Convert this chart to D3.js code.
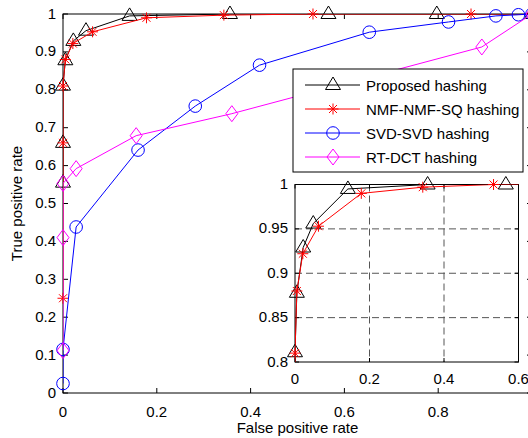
<!DOCTYPE html>
<html>
<head>
<meta charset="UTF-8">
<script src="https://d3js.org/d3.v7.min.js"></script>
<style>
    body { margin: 0; background: #fff; }
    svg { display: block; font-family: "Liberation Sans", Arial, sans-serif; }
    .tick-label { font-size: 15px; fill: #000; }
</style>
</head>
<body>
<div id="chart"></div>
<script>
    // ROC points: [false positive rate, true positive rate]
    const proposed = [[0,0.555],[0,0.66],[0,0.811],[0.005,0.878],[0.022,0.929],[0.049,0.956],[0.142,0.995],[0.356,1],[0.566,1],[0.797,1],[1,1]];
    const nmfSq    = [[0,0.25],[0,0.66],[0,0.81],[0.005,0.88],[0.021,0.922],[0.063,0.953],[0.178,0.99],[0.343,0.997],[0.533,1],[0.87,1],[1,1]];
    const svdSvd   = [[0,0.025],[0,0.115],[0.028,0.438],[0.16,0.641],[0.282,0.757],[0.419,0.865],[0.653,0.952],[0.822,0.979],[0.923,0.995],[0.971,0.998],[1,1]];
    const rtDct    = [[0,0.112],[0,0.41],[0,0.553],[0.028,0.592],[0.156,0.679],[0.36,0.737],[0.893,0.913],[1,1]];

    const seriesNames = ["Proposed hashing", "NMF-NMF-SQ hashing", "SVD-SVD hashing", "RT-DCT hashing"];
    const xTicks = [0, 0.2, 0.4, 0.6, 0.8, 1];
    const yTicks = [0, 0.1, 0.2, 0.3, 0.4, 0.5, 0.6, 0.7, 0.8, 0.9, 1];
    const insetXTicks = [0, 0.2, 0.4, 0.6];
    const insetYTicks = [0.8, 0.85, 0.9, 0.95, 1];

    const series = [
        { name: seriesNames[0], data: proposed, color: "#000", marker: "triangle" },
        { name: seriesNames[1], data: nmfSq, color: "#ff0000", marker: "star" },
        { name: seriesNames[2], data: svdSvd, color: "#0000ff", marker: "circle" },
        { name: seriesNames[3], data: rtDct, color: "#ff00ff", marker: "diamond" }
    ];

    const W = 528, H = 438;
    const svg = d3.select("#chart").append("svg").attr("width", W).attr("height", H);

    // outline markers, like matlab
    function markerPath(type) {
        if (type === "triangle") return "M0,-8L7.5,4.5L-7.5,4.5Z";
        if (type === "circle") return "M6.3,0A6.3,6.3 0 1,1 -6.3,0A6.3,6.3 0 1,1 6.3,0Z";
        if (type === "diamond") return "M0,-8L6,0L0,8L-6,0Z";
        // asterisk
        const r = 5.5, d = 4;
        return `M0,${-r}L0,${r}M${-r},0L${r},0M${-d},${-d}L${d},${d}M${-d},${d}L${d},${-d}`;
    }

    function drawAxes(g, x, y, xt, yt, tickLen, labelDy) {
        const [x0, x1] = x.range(), [y0, y1] = y.range();
        const fmt = d3.format("~g");
        // ticks on all four sides, pointing inward
        xt.forEach(t => {
            g.append("line").attr("x1", x(t)).attr("x2", x(t)).attr("y1", y0).attr("y2", y0 - tickLen).attr("stroke", "#000");
            g.append("line").attr("x1", x(t)).attr("x2", x(t)).attr("y1", y1).attr("y2", y1 + tickLen).attr("stroke", "#000");
            // the figure is cropped on the right, the last main label falls outside it
            if (x(t) < W - 4) {
                g.append("text").attr("class", "tick-label").attr("x", x(t)).attr("y", y0 + labelDy)
                    .attr("text-anchor", "middle").text(fmt(t));
            }
        });
        yt.forEach(t => {
            g.append("line").attr("x1", x0).attr("x2", x0 + tickLen).attr("y1", y(t)).attr("y2", y(t)).attr("stroke", "#000");
            g.append("line").attr("x1", x1).attr("x2", x1 - tickLen).attr("y1", y(t)).attr("y2", y(t)).attr("stroke", "#000");
            g.append("text").attr("class", "tick-label").attr("x", x0 - 7).attr("y", y(t) + 4.5)
                .attr("text-anchor", "end").text(fmt(t));
        });
        g.append("rect").attr("x", x0).attr("y", y1).attr("width", x1 - x0).attr("height", y0 - y1)
            .attr("fill", "none").attr("stroke", "#000");
    }

    function drawSeries(g, list, x, y, clipId, inDomain) {
        const line = d3.line().x(d => x(d[0])).y(d => y(d[1]));
        list.forEach(s => {
            g.append("path").attr("d", line(s.data)).attr("fill", "none")
                .attr("stroke", s.color).attr("stroke-width", 1).attr("clip-path", `url(#${clipId})`);
            g.selectAll(null).data(s.data.filter(inDomain)).enter().append("path")
                .attr("d", markerPath(s.marker))
                .attr("transform", d => `translate(${x(d[0])},${y(d[1])})`)
                .attr("fill", "none").attr("stroke", s.color).attr("stroke-width", 1);
        });
    }

    // ---- main axes ----
    const x = d3.scaleLinear().domain([0, 1]).range([63, 532]);
    const y = d3.scaleLinear().domain([0, 1]).range([393, 14]);

    const defs = svg.append("defs");
    defs.append("clipPath").attr("id", "clipMain").append("rect")
        .attr("x", 63).attr("y", 14).attr("width", 469).attr("height", 379);

    const main = svg.append("g");
    drawAxes(main, x, y, xTicks, yTicks, 5, 24);
    drawSeries(main, series, x, y, "clipMain", d => true);

    main.append("text").attr("class", "tick-label").attr("x", (63 + 532) / 2).attr("y", 433)
        .attr("text-anchor", "middle").text("False positive rate");
    main.append("text").attr("class", "tick-label")
        .attr("transform", `translate(22,${(14 + 393) / 2}) rotate(-90)`)
        .attr("text-anchor", "middle").text("True positive rate");

    // ---- legend ----
    const leg = svg.append("g");
    leg.append("rect").attr("x", 293).attr("y", 69).attr("width", 230).attr("height", 103)
        .attr("fill", "#fff").attr("stroke", "#000");
    series.forEach((s, i) => {
        const ly = 85 + i * 24;
        leg.append("line").attr("x1", 305).attr("x2", 360).attr("y1", ly).attr("y2", ly).attr("stroke", s.color);
        leg.append("path").attr("d", markerPath(s.marker)).attr("transform", `translate(333,${ly})`)
            .attr("fill", "none").attr("stroke", s.color);
        leg.append("text").attr("class", "tick-label").attr("x", 366).attr("y", ly + 5.5).text(s.name);
    });

    // ---- inset: zoom on the top-left corner, two best curves only ----
    const ix = d3.scaleLinear().domain([0, 0.6]).range([295, 518.5]);
    const iy = d3.scaleLinear().domain([0.8, 1]).range([362, 184.5]);
    defs.append("clipPath").attr("id", "clipInset").append("rect")
        .attr("x", 295).attr("y", 184.5).attr("width", 223.5).attr("height", 177.5);

    const inset = svg.append("g");
    inset.append("rect").attr("x", 295).attr("y", 184.5).attr("width", 223.5).attr("height", 177.5).attr("fill", "#fff");
    // dashed grid
    insetXTicks.slice(1, -1).forEach(t => {
        inset.append("line").attr("x1", ix(t)).attr("x2", ix(t)).attr("y1", 184.5).attr("y2", 362)
            .attr("stroke", "#555").attr("stroke-dasharray", "7,4");
    });
    insetYTicks.slice(1, -1).forEach(t => {
        inset.append("line").attr("x1", 295).attr("x2", 518.5).attr("y1", iy(t)).attr("y2", iy(t))
            .attr("stroke", "#555").attr("stroke-dasharray", "7,4");
    });
    drawAxes(inset, ix, iy, insetXTicks, insetYTicks, 4, 21.5);
    drawSeries(inset, series.slice(0, 2), ix, iy, "clipInset", d => d[0] <= 0.6 && d[1] >= 0.8);
</script>
</body>
</html>
